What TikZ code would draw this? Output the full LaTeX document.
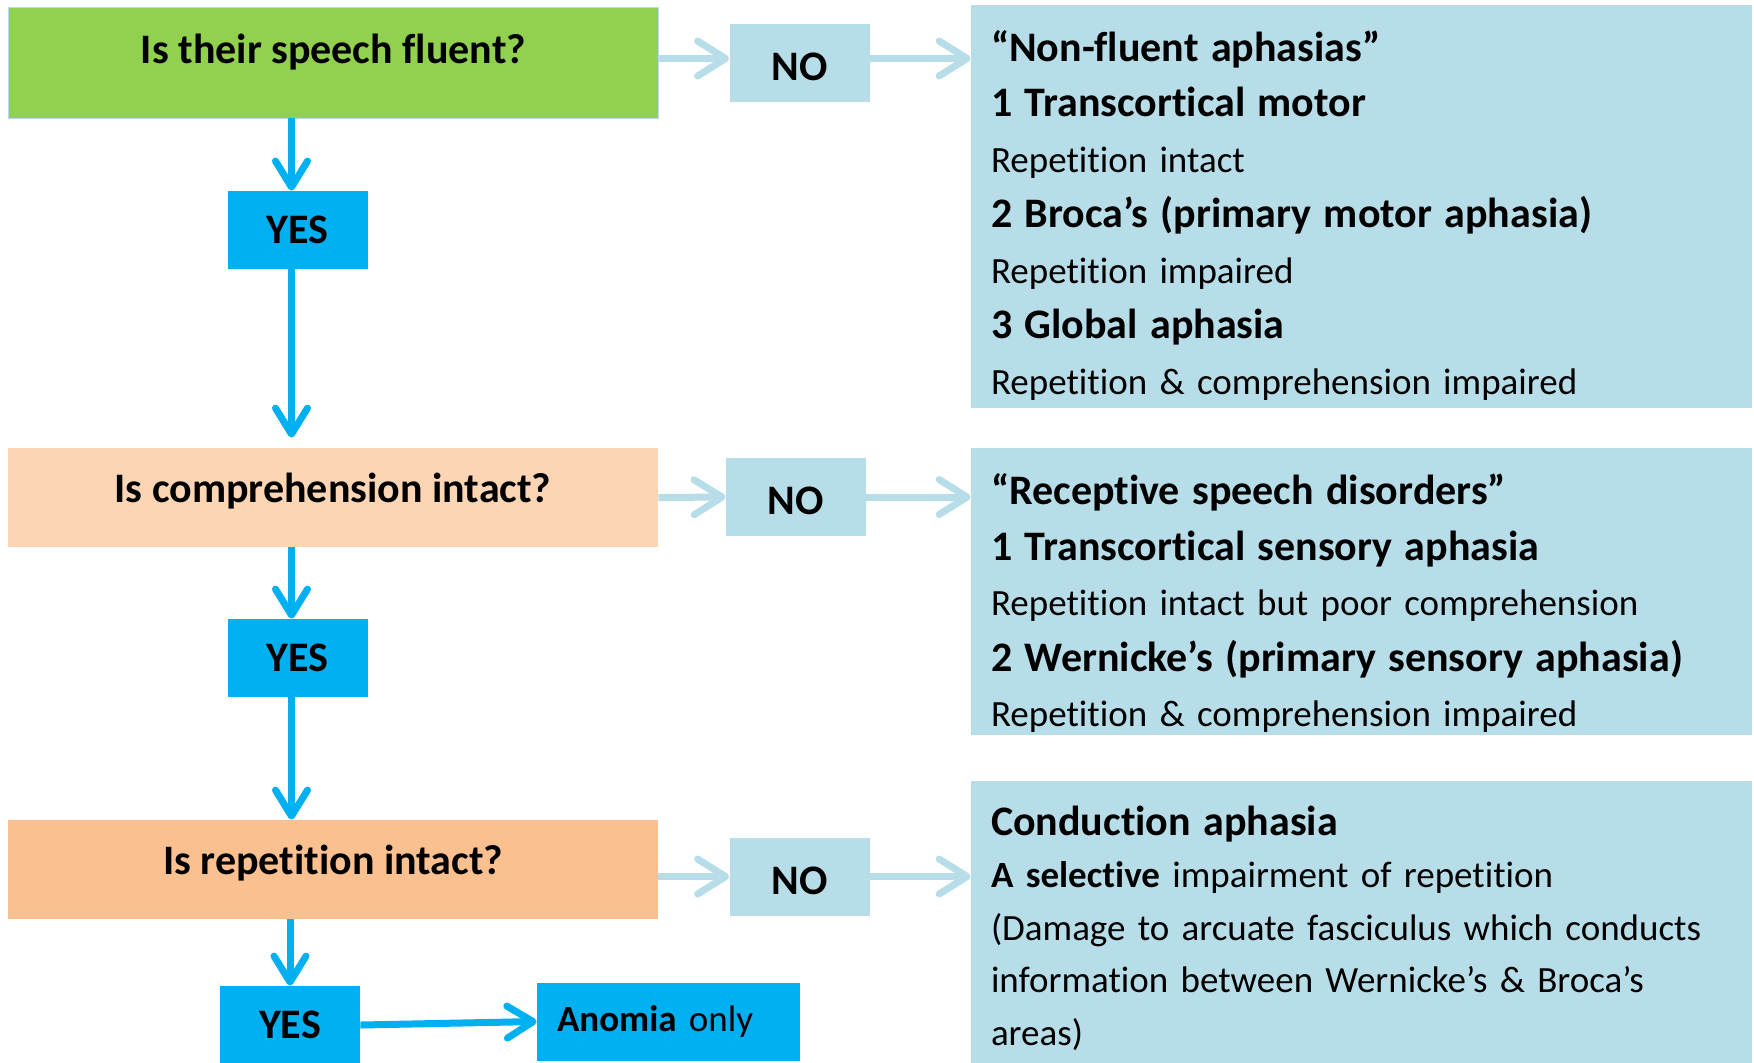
\documentclass[tikz,border=0pt]{standalone}
\usepackage{fontspec}
\setmainfont{Carlito}[Ligatures=NoCommon]
\usetikzlibrary{arrows.meta,positioning}
\definecolor{AphGreen}{HTML}{92D050}
\definecolor{AphPeach}{HTML}{FCD5B5}
\definecolor{AphOrange}{HTML}{FAC090}
\definecolor{AphBlue}{HTML}{00B0F0}
\definecolor{AphPale}{HTML}{B7DDE8}
\newcommand\aphhead[1]{{\fontsize{21}{25}\selectfont\bfseries #1}}
\tikzset{
  yesflow/.style={-{Straight Barb[length=13pt,width=16pt,round]}, line width=3.5pt, draw=AphBlue},
  noflow/.style={-{Straight Barb[length=14pt,width=17.5pt,round]}, line width=3.5pt, draw=AphPale},
  question/.style={minimum width=325pt, minimum height=49.5pt, inner sep=0pt,
                   font=\fontsize{21}{25}\selectfont\bfseries, text height=12pt, text depth=7pt},
  answer/.style={minimum width=70pt, minimum height=39pt, inner sep=0pt,
                 font=\fontsize{21}{25}\selectfont\bfseries},
  yesbox/.style={answer, fill=AphBlue},
  nobox/.style={answer, fill=AphPale, text height=18pt},
  result/.style={fill=AphPale, minimum width=390.5pt, inner xsep=10pt, inner ysep=0pt,
                 text width=370.5pt, align=left, font=\fontsize{18.5}{27.75}\selectfont},
}
\begin{document}
\begin{tikzpicture}[x=0.5pt, y=-0.5pt]
  \useasboundingbox (0,0) rectangle (1754,1062);
  % questions down the left
  \node[question, fill=AphGreen, draw=AphPale, minimum height=55.5pt, text depth=11pt] (fluent) at (333.5,62.5) {Is their speech fluent?};
  \node[question, fill=AphPeach] (compr) at (333,497.5) {Is comprehension intact?};
  \node[question, fill=AphOrange] (repet) at (333,869.5) {Is repetition intact?};
  % answers
  \node[yesbox] (yes1) at (297.5,230) {YES};
  \node[yesbox] (yes2) at (297.5,658) {YES};
  \node[yesbox] (yes3) at (290,1025) {YES};
  \node[nobox] (no1) at (799.5,62.5) {NO};
  \node[nobox] (no2) at (796,497) {NO};
  \node[nobox] (no3) at (799.5,876.5) {NO};
  \node[yesbox, minimum width=131.5pt, inner xsep=10pt, text width=111.5pt, align=left,
        font=\fontsize{18.5}{22}\selectfont] (anomia) at (668.5,1021.5) {\textbf{Anomia} only};
  % outcomes on the right
  \node[result, minimum height=201.5pt] (nonfluent) at (1361.5,206.5)
    {\rule{0pt}{24pt}\aphhead{“Non-fluent aphasias”}\\
     \aphhead{1 Transcortical motor}\\
     Repetition intact\\
     \aphhead{2 Broca’s (primary motor aphasia)}\\
     Repetition impaired\\
     \aphhead{3 Global aphasia}\\
     Repetition \& comprehension impaired};
  \node[result, minimum height=143.5pt] (receptive) at (1361.5,591.5)
    {\rule{0pt}{27pt}\aphhead{“Receptive speech disorders”}\\
     \aphhead{1 Transcortical sensory aphasia}\\
     Repetition intact but poor comprehension\\
     \aphhead{2 Wernicke’s (primary sensory aphasia)}\\
     Repetition \& comprehension impaired};
  \node[result, minimum height=147pt, font=\fontsize{18.5}{26.25}\selectfont] (conduction) at (1361.5,928)
    {\aphhead{Conduction aphasia}\\
     \textbf{A selective} impairment of repetition\\
     (Damage to arcuate fasciculus which conducts\\
     information between Wernicke’s \& Broca’s\\
     areas)};
  % yes path
  \draw[yesflow] ([xshift=-3pt]fluent.south -| yes1) -- ([xshift=-3pt]yes1.north);
  \draw[yesflow, shorten >=5pt] ([xshift=-3pt]yes1.south) -- ([xshift=-3pt]yes1.south |- compr.north);
  \draw[yesflow] ([xshift=-3pt]compr.south -| yes2) -- ([xshift=-3pt]yes2.north);
  \draw[yesflow] ([xshift=-3pt]yes2.south) -- ([xshift=-3pt]yes2.south |- repet.north);
  \draw[yesflow] (repet.south -| yes3) -- (yes3.north);
  \draw[yesflow] (yes3.east) -- (anomia.west);
  % no path
  \draw[noflow] ([yshift=2pt]fluent.east) -- ([yshift=2pt]no1.west);
  \draw[noflow] ([yshift=2pt]no1.east) -- ([yshift=2pt]no1.east -| nonfluent.west);
  \draw[noflow] (compr.east) -- (no2.west);
  \draw[noflow] (no2.east) -- (no2.east -| receptive.west);
  \draw[noflow] (repet.east |- no3) -- (no3.west);
  \draw[noflow] (no3.east) -- (no3.east -| conduction.west);
\end{tikzpicture}
\end{document}
